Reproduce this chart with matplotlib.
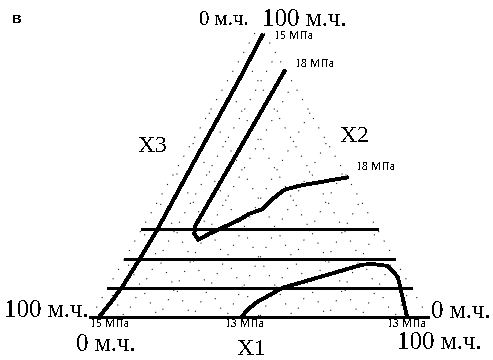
import numpy as np
import matplotlib
matplotlib.use("Agg")
import matplotlib.pyplot as plt

plt.rcParams["font.family"] = ["Liberation Serif", "DejaVu Serif"]
plt.rcParams["text.antialiased"] = False

# ---------------------------------------------
# data: compositions in parts (X1, X2), X3 = 100 - X1 - X2
# ---------------------------------------------
c15_x1 = [2.4, 3.4, 4.1, 4.5, 4.7, 3.9, 3.3, 2.6]
c15_x2 = [0.0, 5.2, 10.3, 19.6, 29.9, 56.4, 81.4, 96.5]

c18_x1 = [15.3, 15.3, 15.3, 16.4, 18.6, 20.8, 24.1, 27.4, 29.3, 32.2, 33.5, 35.6, 39.4, 52.0]
c18_x2 = [84.2, 57.4, 31.3, 28.5, 26.5, 28.5, 30.9, 33.3, 35.4, 36.8, 40.2, 43.6, 45.0, 47.8]

c13_x1 = [44.6, 45.5, 46.8, 51.8, 56.1, 61.0, 71.5, 74.2, 79.3, 84.2, 93.8]
c13_x2 = [0.0, 3.1, 5.2, 10.0, 11.7, 13.7, 17.9, 18.2, 17.5, 13.7, 0.0]

grid_levels = [10, 20, 30, 40, 50, 60, 70, 80, 90]
solid_x2 = [10, 20, 30]

# ---------------------------------------------
# ternary -> figure pixels
# ---------------------------------------------
X0, Y0, W = 91, 317, 337
H = W * np.sqrt(3) / 2


def tern(x1, x2):
    x1 = np.asarray(x1, float) / 100
    x2 = np.asarray(x2, float) / 100
    return X0 + W * (x1 + x2 / 2), Y0 - H * x2


fig = plt.figure(figsize=(4.93, 3.6), dpi=100)
ax = fig.add_axes([0, 0, 1, 1])
ax.set_xlim(0, 493)
ax.set_ylim(360, 0)
ax.axis("off")

dot = dict(color="black", lw=0.7, ls=(0, (1.2, 10)))

# edges (dotted) and diagonal grid
ax.plot(*tern([0, 0], [0, 100]), **dot)
ax.plot(*tern([100, 0], [0, 100]), **dot)
for i, v in enumerate(grid_levels):
    d1 = dict(dot, ls=(i * 2.5, (1.2, 10)))
    ax.plot(*tern([v, v], [0, 100 - v]), **d1)
    ax.plot(*tern([100 - v, 0], [0, 100 - v]), **d1)

# solid horizontals + base
for v in solid_x2:
    ax.plot(*tern([0, 100 - v], [v, v]), color="black", lw=0.9, antialiased=False)
ax.plot(*tern([-0.3, 100], [0, 0]), color="black", lw=0.9, antialiased=False)

# contour curves
for x1, x2 in [(c15_x1, c15_x2), (c18_x1, c18_x2), (c13_x1, c13_x2)]:
    ax.plot(*tern(x1, x2), color="black", lw=2.0, solid_joinstyle="round",
            antialiased=False)

# labels
ax.text(12, 23, "в", fontsize=11, fontweight="bold", family="Liberation Sans")
ax.text(199, 25, "0 м.ч.", fontsize=15)
ax.text(262, 26, "100 м.ч.", fontsize=18)
ax.text(4, 317, "100 м.ч.", fontsize=18)
ax.text(76, 351, "0 м.ч.", fontsize=18)
ax.text(431, 318, "0 м.ч.", fontsize=18)
ax.text(397, 349, "100 м.ч.", fontsize=18)
ax.text(138, 152, "X3", fontsize=17)
ax.text(340, 142, "X2", fontsize=17)
ax.text(237, 355, "X1", fontsize=17)

small = dict(fontsize=8.5)
ax.text(274, 39, "15 МПа", **small)
ax.text(295, 67, "18 МПа", **small)
ax.text(356, 170, "18 МПа", **small)
ax.text(90, 327, "15 МПа", **small)
ax.text(225, 327, "13 МПа", **small)
ax.text(387, 327, "13 МПа", **small)

fig.savefig("out.png", dpi=100)
